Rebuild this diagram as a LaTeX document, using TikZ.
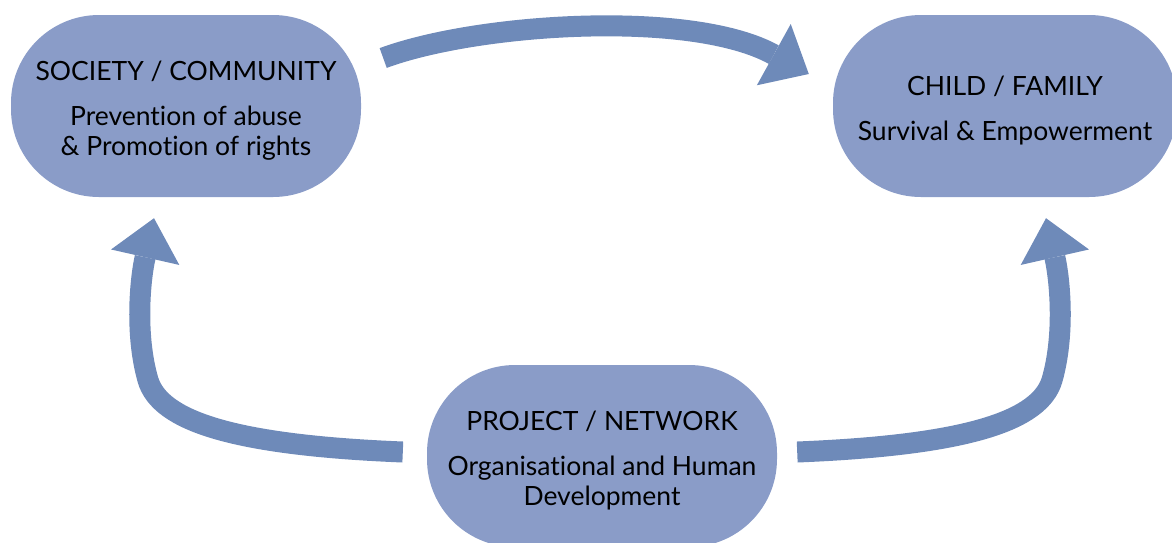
\documentclass[tikz,border=0pt]{standalone}
\usepackage{fontspec}
\setmainfont[Ligatures=NoCommon]{Lato}
\usetikzlibrary{arrows.meta}
\definecolor{boxfill}{HTML}{8A9CC8}
\definecolor{arrowcol}{HTML}{6E8AB9}
\begin{document}
\begin{tikzpicture}[x=1pt,y=-1pt,
  blob/.style={fill=boxfill, draw=none, rounded corners=88pt, minimum height=182pt, inner sep=0pt},
  txt/.style={align=center, font=\fontsize{26.5}{30}\selectfont, inner sep=0pt},
  flow/.style={draw=arrowcol, line width=21pt,
    -{Triangle[width=70pt,length=40pt,line width=0pt]}}]
\useasboundingbox (0,0) rectangle (1172,542);
\node[blob, minimum width=350pt] (soc) at (186,106) {};
\node[txt] (socT) at (186,110.5)
  {SOCIETY / COMMUNITY\\[15pt]Prevention of abuse\\\& Promotion of rights};
\node[blob, minimum width=344pt] (chi) at (1005,106) {};
\node[txt] (chiT) at (1005,110.5)
  {CHILD / FAMILY\\[15pt]Survival \& Empowerment};
\node[blob, minimum width=350pt] (prj) at (602,456) {};
\node[txt] (prjT) at (602,460.5)
  {PROJECT / NETWORK\\[15pt]Organisational and Human\\Development};
\draw[flow] ([shift={(22,-48)}]soc.east) .. controls (478,23) and (691.75,9.25) .. ([shift={(-24,-32)}]chi.west);
\draw[flow] ([shift={(-24,-4)}]prj.west) .. controls (230,445) and (160,420) .. (148,380)
  .. controls (135,335) and (140,280) .. ([shift={(-32,21)}]soc.south);
\draw[flow] ([shift={(20,-4)}]prj.east) .. controls (970,445) and (1040,420) .. (1052,380)
  .. controls (1065,335) and (1060,280) .. ([shift={(41,21)}]chi.south);
\end{tikzpicture}
\end{document}
